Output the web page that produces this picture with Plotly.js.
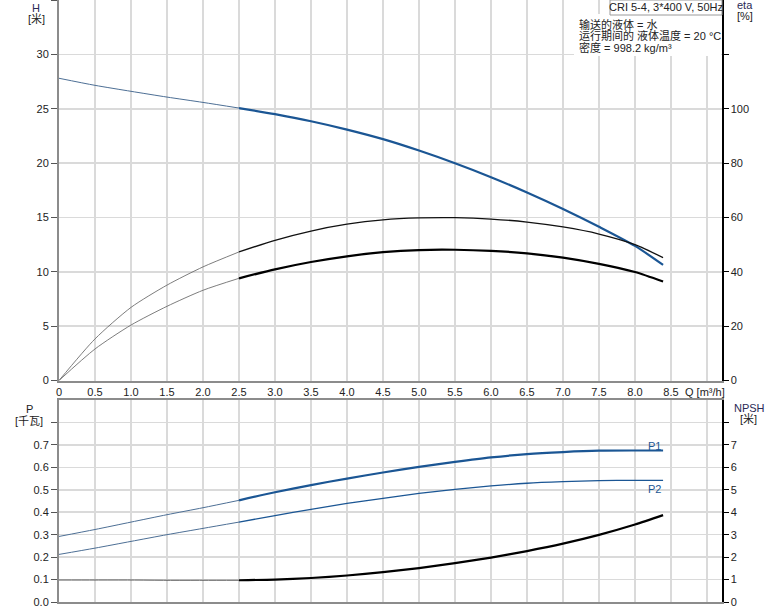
<!DOCTYPE html>
<html>
<head>
<meta charset="utf-8">
<script src="https://cdn.plot.ly/plotly-3.0.1.min.js"></script>
<style>html,body{margin:0;padding:0;background:#fff;}#chart{width:774px;height:611px;}</style>
</head>
<body>
<div id="chart"></div>
<script>
// ---- data ----
const Q = [0, 0.5, 1.0, 1.5, 2.0, 2.5, 3.0, 3.5, 4.0, 4.5, 5.0, 5.5, 6.0, 6.5, 7.0, 7.5, 8.0, 8.39];
const H = [27.8, 27.15, 26.6, 26.07, 25.58, 25.06, 24.5, 23.85, 23.08, 22.2, 21.15, 19.98, 18.7, 17.3, 15.78, 14.14, 12.38, 10.63];
const ETA_PUMP = [0, 15.3, 26.9, 35.1, 41.8, 47.3, 51.6, 55.0, 57.5, 59.1, 59.8, 59.9, 59.4, 58.3, 56.5, 53.9, 50.0, 45.2];
const ETA_TOTAL = [0, 11.6, 20.4, 27.3, 33.2, 37.6, 40.9, 43.6, 45.7, 47.2, 48.0, 48.1, 47.7, 46.8, 45.2, 42.9, 39.9, 36.4];
const P1 = [0.292, 0.323, 0.356, 0.389, 0.420, 0.453, 0.489, 0.521, 0.550, 0.577, 0.602, 0.624, 0.644, 0.659, 0.668, 0.674, 0.675, 0.675];
const P2 = [0.212, 0.240, 0.270, 0.300, 0.328, 0.356, 0.385, 0.413, 0.439, 0.462, 0.484, 0.502, 0.517, 0.529, 0.536, 0.541, 0.542, 0.542];
const NPSH = [0.98, 0.98, 0.98, 0.97, 0.97, 0.97, 1.0, 1.07, 1.18, 1.33, 1.51, 1.73, 1.98, 2.27, 2.6, 2.99, 3.45, 3.87];
const SPLIT_Q = 2.5; // duty range starts here (thick lines)

const X_TICKS = [0, 0.5, 1.0, 1.5, 2.0, 2.5, 3.0, 3.5, 4.0, 4.5, 5.0, 5.5, 6.0, 6.5, 7.0, 7.5, 8.0, 8.5, 9.0];
const X_LABELS = ["0", "0.5", "1.0", "1.5", "2.0", "2.5", "3.0", "3.5", "4.0", "4.5", "5.0", "5.5", "6.0", "6.5", "7.0", "7.5", "8.0", "8.5", ""];
const H_TICKS = [0, 5, 10, 15, 20, 25, 30, 35];
const H_LABELS = ["0", "5", "10", "15", "20", "25", "30", ""];
const ETA_TICKS = [0, 20, 40, 60, 80, 100, 120];
const ETA_LABELS = ["0", "20", "40", "60", "80", "100", ""];
const P_TICKS = [0, 0.1, 0.2, 0.3, 0.4, 0.5, 0.6, 0.7, 0.8];
const P_LABELS = ["0.0", "0.1", "0.2", "0.3", "0.4", "0.5", "0.6", "0.7", ""];
const NPSH_TICKS = [0, 1, 2, 3, 4, 5, 6, 7, 8];
const NPSH_LABELS = ["0", "1", "2", "3", "4", "5", "6", "7", ""];

// ---- helpers ----
const iS = Q.indexOf(SPLIT_Q);
const thin = a => a.slice(0, iS + 1);
const thick = a => a.slice(iS);

const W = 774, HGT = 611, ML = 59, MR = 52, MT = 0, MB = 9;
const PW = W - ML - MR, PH = HGT - MT - MB;
const px = x => (x - ML) / PW;
const py = y => (PH + MT - y) / PH;

const BLUE = '#1b5694';
const FONT = 'Liberation Sans, Arial, sans-serif';
const CJK = 'Liberation Sans, Noto Sans CJK SC, sans-serif';

function tr(x, y, xa, ya, color, width) {
  return {x: x, y: y, xaxis: xa, yaxis: ya, type: 'scatter', mode: 'lines',
    line: {color: color, width: width, shape: 'spline', smoothing: 0.7},
    hoverinfo: 'skip', showlegend: false};
}

const traces = [
  tr(thin(Q), thin(ETA_PUMP), 'x', 'y2', '#6e6e6e', 0.9),
  tr(thick(Q), thick(ETA_PUMP), 'x', 'y2', '#111', 1.3),
  tr(thin(Q), thin(ETA_TOTAL), 'x', 'y2', '#6e6e6e', 0.9),
  tr(thick(Q), thick(ETA_TOTAL), 'x', 'y2', '#000', 2.2),
  tr(thin(Q), thin(H), 'x', 'y', '#4d6f95', 1),
  tr(thick(Q), thick(H), 'x', 'y', BLUE, 2.2),
  tr(thin(Q), thin(P1), 'x2', 'y3', '#4d6f95', 1),
  tr(thick(Q), thick(P1), 'x2', 'y3', BLUE, 2.2),
  tr(thin(Q), thin(P2), 'x2', 'y3', '#4d6f95', 1),
  tr(thick(Q), thick(P2), 'x2', 'y3', BLUE, 1.3),
  tr(thin(Q), thin(NPSH), 'x2', 'y4', '#555', 1),
  tr(thick(Q), thick(NPSH), 'x2', 'y4', '#000', 2.2)
];

const GRID = '#dadada';
const xBase = {range: [0, PW / 72], tickvals: X_TICKS, ticktext: X_LABELS, showgrid: true,
  gridcolor: GRID, gridwidth: 1.6, zeroline: false, showline: true, linecolor: '#8c8c8c', linewidth: 2,
  ticks: '', tickfont: {family: FONT, size: 11, color: '#222'}, fixedrange: true};

const layout = {
  width: W, height: HGT,
  margin: {l: ML, r: MR, t: MT, b: MB, pad: 0},
  paper_bgcolor: '#fff', plot_bgcolor: '#fff',
  showlegend: false,
  font: {family: FONT, size: 11, color: '#222'},
  xaxis: Object.assign({}, xBase, {anchor: 'y', domain: [0, 1]}),
  xaxis2: Object.assign({}, xBase, {anchor: 'y3', domain: [0, 1], showticklabels: false, mirror: true}),
  yaxis: {domain: [py(380.5), 1], range: [0, 35], tickvals: H_TICKS, ticktext: H_LABELS,
    showgrid: true, gridcolor: GRID, gridwidth: 1.6, zeroline: false,
    showline: true, linecolor: '#8c8c8c', linewidth: 2, ticks: 'outside', ticklen: 6, tickcolor: '#555', tickwidth: 1,
    tickfont: {family: FONT, size: 11, color: '#222'}, fixedrange: true},
  yaxis2: {overlaying: 'y', side: 'right', anchor: 'x', range: [0, 140], tickvals: ETA_TICKS, ticktext: ETA_LABELS,
    showgrid: false, zeroline: false, showline: true, linecolor: '#000', linewidth: 1.5,
    ticks: 'outside', ticklen: 5, tickcolor: '#000', tickwidth: 1,
    tickfont: {family: FONT, size: 11, color: '#222'}, fixedrange: true},
  yaxis3: {domain: [0, py(400)], anchor: 'x2', range: [0, 0.9], tickvals: P_TICKS, ticktext: P_LABELS,
    showgrid: true, gridcolor: GRID, gridwidth: 1.6, zeroline: false,
    showline: true, linecolor: '#8c8c8c', linewidth: 2, ticks: 'outside', ticklen: 6, tickcolor: '#555', tickwidth: 1,
    tickfont: {family: FONT, size: 11, color: '#222'}, fixedrange: true},
  yaxis4: {overlaying: 'y3', side: 'right', anchor: 'x2', range: [0, 9], tickvals: NPSH_TICKS, ticktext: NPSH_LABELS,
    showgrid: false, zeroline: false, showline: true, linecolor: '#000', linewidth: 1.5,
    ticks: 'outside', ticklen: 5, tickcolor: '#000', tickwidth: 1,
    tickfont: {family: FONT, size: 11, color: '#222'}, fixedrange: true},
  shapes: [
    {type: 'rect', xref: 'paper', yref: 'paper', x0: px(574), x1: px(721), y0: py(56), y1: py(14),
      fillcolor: '#fff', line: {width: 0}, layer: 'above'},
    {type: 'rect', xref: 'paper', yref: 'paper', x0: px(610), x1: px(722), y0: py(15), y1: py(0),
      fillcolor: '#fff', line: {color: '#9a9a9a', width: 1}, layer: 'above'}
  ],
  annotations: []
};

function ann(text, x, y, opts) {
  layout.annotations.push(Object.assign({text: text, xref: 'paper', yref: 'paper', x: px(x), y: py(y),
    xanchor: 'center', yanchor: 'middle', showarrow: false,
    font: {family: CJK, size: 11, color: '#222'}}, opts || {}));
}

ann('H', 36, 8, {font: {family: FONT, size: 11, color: '#2a2a55'}});
ann('[米]', 36, 19);
ann('eta', 745, 5, {font: {family: FONT, size: 11, color: '#2a2a55'}});
ann('[%]', 745, 16);
ann('P', 29, 409);
ann('[千瓦]', 29, 421);
ann('NPSH', 749, 408, {font: {family: FONT, size: 11, color: '#2a2a55'}});
ann('[米]', 748, 419);
ann('Q [m³/h]', 683, 392, {xanchor: 'left'});
ann('CRI 5-4, 3*400 V, 50Hz', 666, 7, {font: {family: FONT, size: 11, color: '#222'}});
ann('输送的液体 = 水', 577, 24, {xanchor: 'left'});
ann('运行期间的 液体温度 = 20 °C', 577, 36, {xanchor: 'left'});
ann('密度 = 998.2 kg/m³', 577, 48, {xanchor: 'left'});
ann('P1', 654, 446, {font: {family: FONT, size: 11, color: BLUE}});
ann('P2', 654, 489, {font: {family: FONT, size: 11, color: BLUE}});

Plotly.newPlot('chart', traces, layout, {staticPlot: true, displayModeBar: false});
</script>
</body>
</html>
